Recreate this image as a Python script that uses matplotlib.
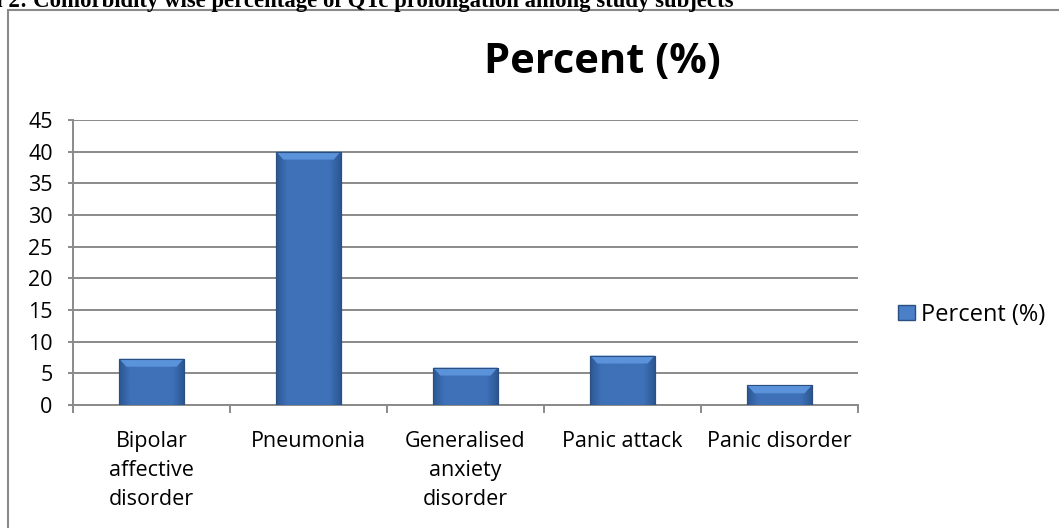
import numpy as np
import matplotlib
matplotlib.use("Agg")
import matplotlib.pyplot as plt
from matplotlib.patches import Rectangle, Polygon

categories = ["Bipolar\naffective\ndisorder", "Pneumonia", "Generalised\nanxiety\ndisorder",
              "Panic attack", "Panic disorder"]
percent = [7.3, 40, 5.9, 7.8, 3.1]
series_name = "Percent (%)"
y_ticks = list(range(0, 50, 5))

W, H = 1059, 528
fig = plt.figure(figsize=(W / 100, H / 100), dpi=100)
fig.patch.set_facecolor("white")

# caption above the chart frame (top partly cut)
fig.text(-0.009, 1 - 7 / H, "h 2: Comorbidity wise percentage of QTc prolongation among study subjects",
         family="Liberation Serif", weight="bold", fontsize=16.4, va="baseline", ha="left")

# chart frame
fig.patches.append(Rectangle((8 / W, -0.02), 1.1, 1 - 10 / H + 0.02, transform=fig.transFigure,
                             fill=False, edgecolor="#8a8a8a", linewidth=1.5))

ax = fig.add_axes([73 / W, 1 - 405 / H, (858 - 73) / W, (405 - 120) / H])
x = np.arange(len(categories))
ax.set_xlim(-0.5, len(categories) - 0.5)
ax.set_ylim(0, 45)
ax.set_yticks(y_ticks)
ax.set_yticklabels([str(t) for t in y_ticks], family="Open Sans", fontsize=15.5)
ax.yaxis.grid(True, color="#8a8a8a", linewidth=1.4)
ax.set_axisbelow(True)
for s in ["top", "right"]:
    ax.spines[s].set_visible(False)
for s in ["left", "bottom"]:
    ax.spines[s].set_color("#8a8a8a")
    ax.spines[s].set_linewidth(1.4)
ax.tick_params(axis="y", length=3.6, width=1.4, color="#8a8a8a", pad=11)
ax.set_xticks(np.arange(-0.5, len(categories), 1.0), minor=False)
ax.set_xticklabels([])
ax.tick_params(axis="x", which="major", length=6, width=1.4, color="#8a8a8a")
ax.set_xticks(x, minor=True)
ax.set_xticklabels(categories, minor=True, family="Open Sans", fontsize=15.5, linespacing=1.5, va="top")
ax.tick_params(axis="x", which="minor", length=0, pad=19)

bw = 0.41
grad = np.linspace(0, 1, 64)
prof = 1 - np.abs(grad - 0.5) * 2
img = np.zeros((1, 64, 3))
c_dark = np.array([0x2c, 0x57, 0x93]) / 255
c_light = np.array([0x3e, 0x71, 0xb8]) / 255
for i in range(3):
    img[0, :, i] = c_dark[i] + (c_light[i] - c_dark[i]) * np.clip(prof * 3, 0, 1)

bars = ax.bar(x, percent, width=bw, color="#3a6bb0", edgecolor="#2b4f80", linewidth=0.8, zorder=3,
              label=series_name)
for b, v in zip(bars, percent):
    x0 = b.get_x()
    im = ax.imshow(img, extent=(x0, x0 + bw, 0, v), aspect="auto", zorder=3.1, interpolation="bilinear")
    im.set_clip_path(b)
    bev_y = 1.25
    bev_x = 0.045
    top = Polygon([(x0, v), (x0 + bw, v), (x0 + bw - bev_x, v - bev_y), (x0 + bev_x, v - bev_y)],
                  closed=True, facecolor="#5b93da", edgecolor="none", zorder=3.2)
    ax.add_patch(top)
    ax.add_patch(Rectangle((x0, 0), bw, v, fill=False, edgecolor="#2b4f80", linewidth=0.8, zorder=3.3))

fig.text(602 / W, 1 - 73 / H, series_name, family="Open Sans", weight="bold", fontsize=30,
         ha="center", va="baseline")

fig.legend(handles=[Rectangle((0, 0), 1, 1, facecolor="#4a80c8", edgecolor="#2b4f80")],
           labels=[series_name], loc="center left", bbox_to_anchor=(877 / W, 1 - 315 / H),
           frameon=False, prop={"family": "Open Sans", "size": 17},
           handlelength=0.72, handleheight=0.6, handletextpad=0.25)

fig.savefig("out.png", dpi=100)
